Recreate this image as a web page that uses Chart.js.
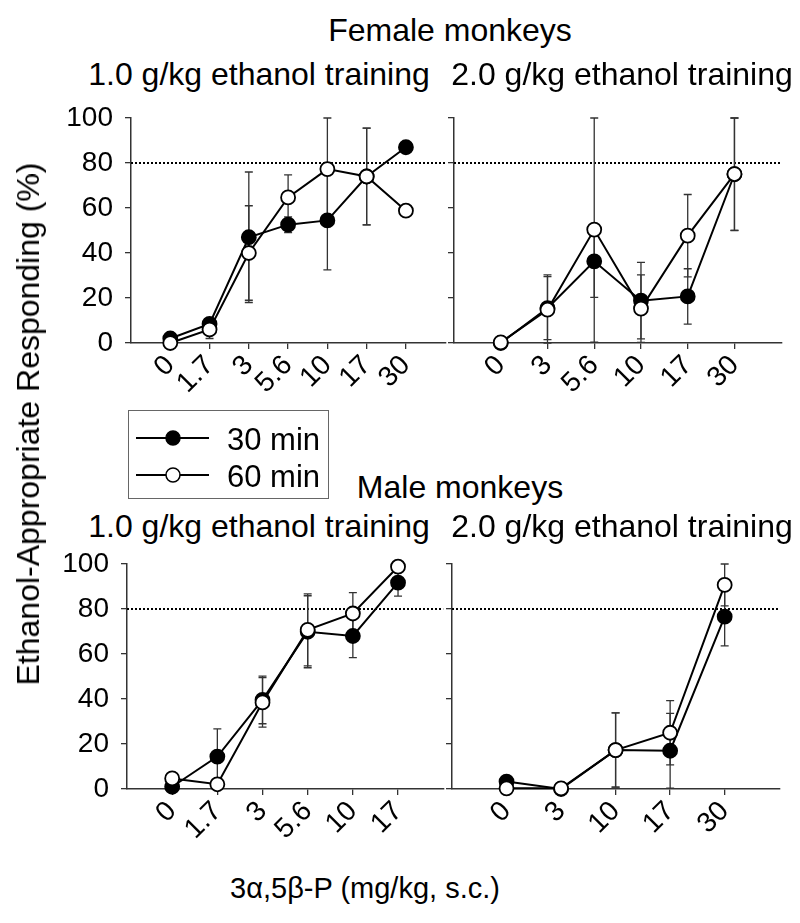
<!DOCTYPE html>
<html><head><meta charset="utf-8">
<script src="https://cdn.jsdelivr.net/npm/chart.js@4"></script>
<style>
body{margin:0;background:#fff;}
#wrap{position:relative;width:800px;height:923px;overflow:hidden;font-family:"Liberation Sans",Arial,sans-serif;color:#000;background:#fff;}
canvas{position:absolute;}
.t{position:absolute;white-space:nowrap;font-size:32px;line-height:32px;transform:translateX(-50%);}
#ytitle{position:absolute;white-space:nowrap;font-size:32px;line-height:32px;left:28px;top:424px;transform:translate(-50%,-50%) rotate(-90deg);}
#legend{position:absolute;left:128px;top:410px;width:199px;height:87px;border:1px solid #666;}
#legend span{position:absolute;left:98px;font-size:31px;line-height:31px;white-space:nowrap;}
</style></head><body>
<div id="wrap">
<canvas id="c1" width="454" height="320" style="left:0;top:100px"></canvas>
<canvas id="c2" width="346" height="320" style="left:444px;top:100px"></canvas>
<canvas id="c3" width="452" height="320" style="left:0;top:546px"></canvas>
<canvas id="c4" width="346" height="320" style="left:442px;top:546px"></canvas>
<div class="t" style="left:450px;top:14px">Female monkeys</div>
<div class="t" style="left:259px;top:58px">1.0 g/kg ethanol training</div>
<div class="t" style="left:622px;top:58px">2.0 g/kg ethanol training</div>
<div class="t" style="left:460px;top:471px">Male monkeys</div>
<div class="t" style="left:259px;top:510px">1.0 g/kg ethanol training</div>
<div class="t" style="left:622px;top:510px">2.0 g/kg ethanol training</div>
<div class="t" style="left:365px;top:874px;font-size:29px;line-height:29px">3α,5β-P (mg/kg, s.c.)</div>
<div id="ytitle">Ethanol-Appropriate Responding (%)</div>
<div id="legend">
  <svg width="199" height="87" style="position:absolute;left:0;top:0">
    <line x1="7" y1="27" x2="80" y2="27" stroke="#000" stroke-width="2"/>
    <circle cx="44" cy="27" r="7" fill="#000" stroke="#000" stroke-width="1.5"/>
    <line x1="7" y1="64" x2="80" y2="64" stroke="#000" stroke-width="2"/>
    <circle cx="44" cy="64" r="7" fill="#fff" stroke="#000" stroke-width="1.5"/>
  </svg>
  <span style="top:13px">30 min</span>
  <span style="top:50px">60 min</span>
</div>
</div>
<script>
// ---- data ----
const femaleLowDoses = ['0','1.7','3','5.6','10','17','30'];
const femaleLow30    = [2, 8.5, 47, 52.6, 54.5, 74, 87];
const femaleLow30Err = [null, null, 29, 3.5, 22, 21.5, null];
const femaleLow60    = [0, 6, 40, 64.7, 77.3, 74, 58.8];
const femaleLow60Err = [null, 4, 21, 10, 22.7, 21.5, null];

const femaleHighDoses = ['0','3','5.6','10','17','30'];
const femaleHigh30    = [0, 15.5, 36.3, 18.8, 20.7, 75];
const femaleHigh30Err = [null, 14, 16, 17, 12.3, 25];
const femaleHigh60    = [0.3, 14.8, 50.4, 15.3, 47.7, 75.1];
const femaleHigh60Err = [null, 15.5, 50, 15, 18.3, 25];

const maleLowDoses = ['0','1.7','3','5.6','10','17'];
const maleLow30    = [1, 14.4, 39.6, 69.9, 68, 91.7];
const maleLow30Err = [null, 12.3, 10.6, 16, 9.6, 6];
const maleLow60    = [4.7, 2.1, 38.5, 70.7, 78, 98.8];
const maleLow60Err = [null, null, 11, 16, 9.3, null];

const maleHighDoses = ['0','3','10','17','30'];
const maleHigh30    = [3.3, 0, 17.3, 17, 76.6];
const maleHigh30Err = [null, null, 16.5, 16.6, 13];
const maleHigh60    = [0.3, 0.3, 17.3, 25, 90.7];
const maleHigh60Err = [null, null, 16.5, 14.3, 9.3];

const yTicks = [0, 20, 40, 60, 80, 100];
const criterion = 80;

const FONT = '"Liberation Sans", Arial, sans-serif';
const AXIS = '#333';

const errPlugin = {
  id: 'errbars',
  beforeDatasetsDraw(chart) {
    const {ctx, scales: {x, y}} = chart;
    ctx.save();
    const yc = y.getPixelForValue(criterion);
    ctx.strokeStyle = '#000';
    ctx.lineWidth = 2;
    ctx.setLineDash([2, 2]);
    ctx.beginPath();
    ctx.moveTo(chart.chartArea.left, yc);
    ctx.lineTo(chart.chartArea.right, yc);
    ctx.stroke();
    ctx.setLineDash([]);
    ctx.strokeStyle = AXIS;
    ctx.lineWidth = 1.3;
    chart.data.datasets.forEach(ds => {
      ds.data.forEach((p, i) => {
        const e = ds.err[i];
        if (e == null) return;
        const px = x.getPixelForValue(p.x);
        const t = y.getPixelForValue(Math.min(100, p.y + e));
        const b = y.getPixelForValue(Math.max(0, p.y - e));
        ctx.beginPath();
        ctx.moveTo(px, t); ctx.lineTo(px, b);
        ctx.moveTo(px - 4, t); ctx.lineTo(px + 4, t);
        ctx.moveTo(px - 4, b); ctx.lineTo(px + 4, b);
        ctx.stroke();
      });
    });
    ctx.restore();
  }
};

function panel(id, doses, s30, e30, s60, e60, yw, showY) {
  const mk = (vals) => doses.map((d, i) => ({x: i, y: vals[i]}));
  const canvas = document.getElementById(id);
  const xh = canvas.height - 18 - 225;
  new Chart(canvas, {
    type: 'line',
    data: {
      datasets: [
        {label: '60 min', data: mk(s60), err: e60, order: 1,
         borderColor: '#000', borderWidth: 2, pointRadius: 7,
         pointBackgroundColor: '#fff', pointBorderColor: '#000', pointBorderWidth: 1.8,
         tension: 0, clip: false},
        {label: '30 min', data: mk(s30), err: e30, order: 2,
         borderColor: '#000', borderWidth: 2, pointRadius: 7,
         pointBackgroundColor: '#000', pointBorderColor: '#000', pointBorderWidth: 1.8,
         tension: 0, clip: false}
      ]
    },
    options: {
      responsive: false, animation: false, devicePixelRatio: 1,
      layout: {padding: {top: 18, left: 0, right: 0, bottom: 0}},
      plugins: {legend: {display: false}, tooltip: {enabled: false}},
      scales: {
        x: {
          type: 'linear', min: -1, max: doses.length,
          afterBuildTicks: s => { s.ticks = doses.map((d, i) => ({value: i})); },
          afterFit: s => { s.height = xh; s.paddingLeft = 0; s.paddingRight = 0; },
          ticks: {callback: v => doses[v], minRotation: 45, maxRotation: 45, autoSkip: false,
                  font: {size: 28, family: FONT}, color: '#000', padding: 0},
          grid: {drawOnChartArea: false, drawTicks: true, tickLength: 6, color: AXIS, lineWidth: 1.3},
          border: {display: true, color: AXIS, width: 1.5}
        },
        y: {
          min: 0, max: 100,
          afterBuildTicks: s => { s.ticks = yTicks.map(v => ({value: v})); },
          afterFit: s => { s.width = yw; s.paddingTop = 0; s.paddingBottom = 0; },
          ticks: {display: showY, font: {size: 28, family: FONT}, color: '#000', padding: 12},
          grid: {drawOnChartArea: false, drawTicks: true, tickLength: 6, color: AXIS, lineWidth: 1.3},
          border: {display: true, color: AXIS, width: 1.5}
        }
      }
    },
    plugins: [errPlugin]
  });
}

panel('c1', femaleLowDoses, femaleLow30, femaleLow30Err, femaleLow60, femaleLow60Err, 131, true);
panel('c2', femaleHighDoses, femaleHigh30, femaleHigh30Err, femaleHigh60, femaleHigh60Err, 10, false);
panel('c3', maleLowDoses, maleLow30, maleLow30Err, maleLow60, maleLow60Err, 127, true);
panel('c4', maleHighDoses, maleHigh30, maleHigh30Err, maleHigh60, maleHigh60Err, 10, false);
</script>
</body></html>
